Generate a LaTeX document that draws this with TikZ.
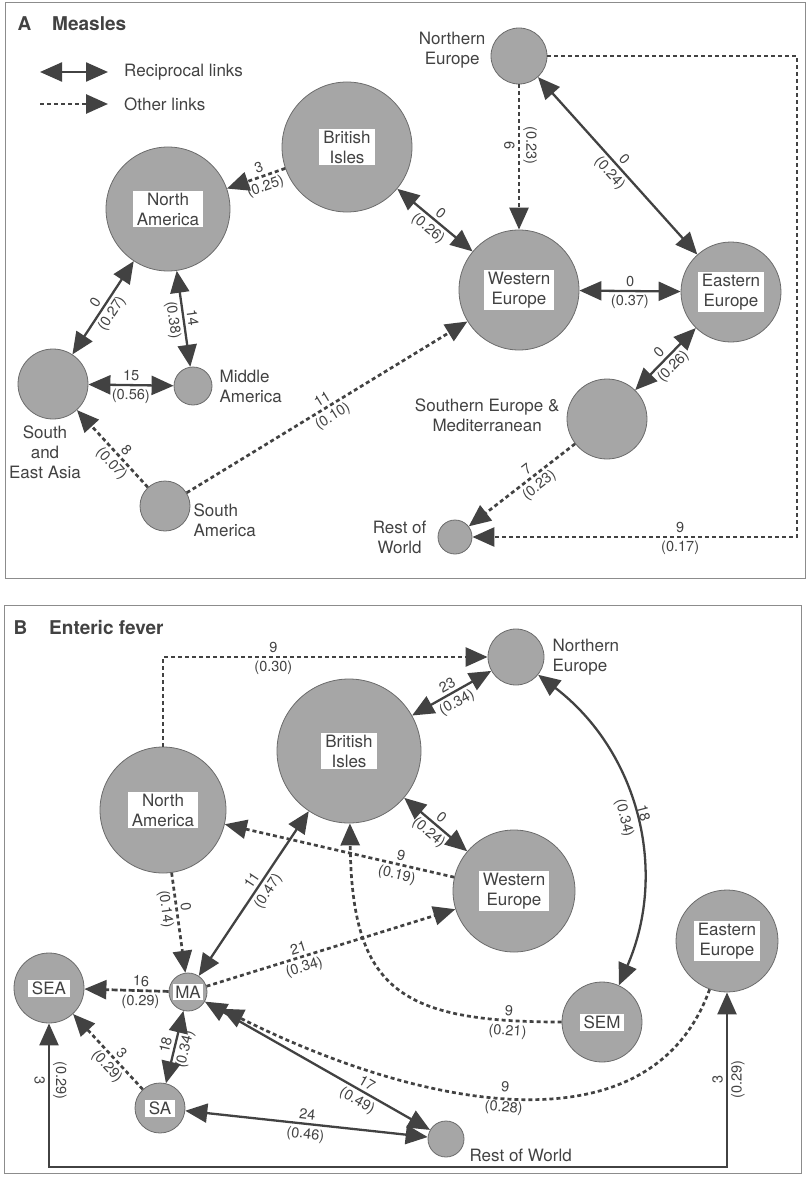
\documentclass[tikz,border=0pt]{standalone}
\usepackage{fontspec}
\setmainfont{TeX Gyre Heros}
\usetikzlibrary{arrows.meta, positioning}

\definecolor{blob}{gray}{0.65}
\definecolor{rim}{gray}{0.42}
\definecolor{ink}{gray}{0.26}
\definecolor{framegray}{gray}{0.55}

\tikzstyle{region} = [circle, draw=rim, fill=blob, line width=0.8pt, inner sep=0pt]
\tikzstyle{namebox} = [rectangle, fill=white, text=ink, align=center, inner xsep=4pt, inner ysep=2pt, font=\fontsize{17}{20}\selectfont]
\tikzstyle{regionname} = [text=ink, inner sep=0pt, font=\fontsize{17}{20}\selectfont]
\tikzstyle{weight} = [text=ink, sloped, inner sep=3pt, font=\fontsize{14.5}{16}\selectfont]
\tikzstyle{recip} = [draw=ink, line width=2.3pt, <->]
\tikzstyle{otherlink} = [draw=ink, line width=2.7pt, dash pattern=on 4pt off 3pt, ->]
\tikzstyle{panel} = [draw=framegray, line width=1pt]
\tikzstyle{paneltitle} = [text=ink, anchor=west, font=\fontsize{19}{22}\selectfont\bfseries]

\begin{document}
\begin{tikzpicture}[x=1pt, y=-1pt, >={Triangle[length=22pt, width=19pt]}]
\useasboundingbox (0,0) rectangle (807,1185);

% ---------- A: measles ----------
\draw[panel] (5,3) rectangle (805,578);
\node (titleA) [paneltitle] at (14,24) {A\hspace{21pt}Measles};

% key
\coordinate (keyR1) at (40,72);
\coordinate (keyR2) at (108,72);
\coordinate (keyO1) at (40,104);
\coordinate (keyO2) at (108,104);
\draw[recip] (keyR1) -- (keyR2);
\draw[otherlink] (keyO1) -- (keyO2);
\node (keyrecip) [regionname, right=16pt of keyR2] {Reciprocal links};
\node (keyother) [regionname, right=16pt of keyO2] {Other links};

\node (naA) [region, minimum size=124pt] at (168,209) {};
\node (biA) [region, minimum size=130pt] at (347,147) {};
\node (neA) [region, minimum size=56pt] at (519,56) {};
\node (weA) [region, minimum size=120pt] at (519,290) {};
\node (eeA) [region, minimum size=100pt] at (731,292) {};
\node (semA) [region, minimum size=80pt] at (607,419) {};
\node (rowA) [region, minimum size=34pt] at (455,537) {};
\node (seaA) [region, minimum size=70pt] at (53,384) {};
\node (maA) [region, minimum size=38pt] at (193,386) {};
\node (saA) [region, minimum size=50pt] at (165,506) {};

\node (naAname) [namebox] at (naA) {North\\America};
\node (biAname) [namebox] at (biA) {British\\Isles};
\node (weAname) [namebox] at (weA) {Western\\Europe};
\node (eeAname) [namebox] at (eeA) {Eastern\\Europe};

\node (neAname) [regionname, align=center, left=5pt of neA, yshift=6pt] {Northern\\Europe};
\node (maAname) [regionname, align=left, right=7pt of maA] {Middle\\America};
\node (seaAname) [regionname, align=center, below=6pt of seaA, xshift=-8pt] {South\\and\\East Asia};
\node (saAname) [regionname, align=left, right=3pt of saA, yshift=-14pt] {South\\America};
\node (semAname) [regionname, align=center, left=7pt of semA, yshift=4pt] {Southern Europe \&\\Mediterranean};
\node (rowAname) [regionname, align=center, left=11pt of rowA] {Rest of\\World};

\draw[otherlink] (biA) -- node[weight, above, pos=0.4] {3} node[weight, below, pos=0.4] {(0.25)} (naA);
\draw[recip] (naA) -- node[weight, above] {0} node[weight, below] {(0.27)} (seaA);
\draw[recip] (naA) -- node[weight, above] {14} node[weight, below] {(0.38)} (maA);
\draw[recip] (seaA) -- node[weight, above] {15} node[weight, below] {(0.56)} (maA);
\draw[otherlink] (saA) -- node[weight, above, pos=0.4] {8} node[weight, below, pos=0.4] {(0.07)} (seaA);
\draw[otherlink] (saA) -- node[weight, above] {11} node[weight, below] {(0.10)} (weA);
\draw[recip] (biA) -- node[weight, above] {0} node[weight, below] {(0.26)} (weA);
\draw[otherlink] (neA) -- node[weight, below, pos=0.42] {6} node[weight, above, pos=0.42] {(0.23)} (weA);
\draw[recip] (neA) -- node[weight, above] {0} node[weight, below] {(0.24)} (eeA);
\draw[recip] (weA) -- node[weight, above] {0} node[weight, below] {(0.37)} (eeA);
\draw[recip] (eeA) -- node[weight, above] {0} node[weight, below] {(0.26)} (semA);
\draw[otherlink] (semA) -- node[weight, above, pos=0.4] {7} node[weight, below, pos=0.4] {(0.23)} (rowA);
\coordinate (turnA) at (797,56);
\draw[otherlink] (neA) -- (turnA) |- node[weight, above, pos=0.68] {9} node[weight, below, pos=0.68] {(0.17)} (rowA);

% ---------- B: enteric fever ----------
\draw[panel] (4,605) rectangle (801,1173);
\node (titleB) [paneltitle] at (10,628) {B\hspace{22pt}Enteric fever};

\node (neB) [region, minimum size=56pt] at (516,657) {};
\node (biB) [region, minimum size=144pt] at (349,751) {};
\node (naB) [region, minimum size=126pt] at (163,810) {};
\node (weB) [region, minimum size=122pt] at (514,891) {};
\node (eeB) [region, minimum size=102pt] at (727,941) {};
\node (semB) [region, minimum size=80pt] at (602,1022) {};
\node (rowB) [region, minimum size=36pt] at (446,1139) {};
\node (seaB) [region, minimum size=70pt] at (49,988) {};
\node (maB) [region, minimum size=38pt] at (188,992) {};
\node (saB) [region, minimum size=50pt] at (160,1108) {};

\node (biBname) [namebox] at (biB) {British\\Isles};
\node (naBname) [namebox] at (naB) {North\\America};
\node (weBname) [namebox] at (weB) {Western\\Europe};
\node (eeBname) [namebox] at (eeB) {Eastern\\Europe};
\node (semBname) [namebox] at (semB) {SEM};
\node (seaBname) [namebox] at (seaB) {SEA};
\node (maBname) [namebox, inner xsep=2pt] at (maB) {MA};
\node (saBname) [namebox] at (saB) {SA};

\node (neBname) [regionname, align=left, right=8pt of neB] {Northern\\Europe};
\node (rowBname) [regionname, right=5pt of rowB, yshift=-16pt] {Rest of World};

\draw[otherlink] (naB) |- node[weight, above, pos=0.67] {9} node[weight, below, pos=0.67] {(0.30)} (neB);
\draw[recip] (biB) -- node[weight, above] {23} node[weight, below] {(0.34)} (neB);
\draw[recip] (neB) to[bend left=38] node[weight, above] {18} node[weight, below] {(0.34)} (semB);
\draw[recip] (biB) -- node[weight, above] {0} node[weight, below] {(0.24)} (weB);
\draw[otherlink] (weB) -- node[weight, above, pos=0.24] {9} node[weight, below, pos=0.24] {(0.19)} (naB);
\draw[otherlink] (naB) -- node[weight, above, pos=0.35] {0} node[weight, below, pos=0.35] {(0.14)} (maB);
\draw[recip] (maB) -- node[weight, above, pos=0.55] {11} node[weight, below, pos=0.55] {(0.47)} (biB);
\draw[otherlink] (maB) -- node[weight, above, pos=0.38] {21} node[weight, below, pos=0.38] {(0.34)} (weB);
\draw[otherlink] (semB) .. controls (400,1022) and (352,990) .. node[weight, above, pos=0.12] {9} node[weight, below, pos=0.12] {(0.21)} (biB);
\draw[otherlink, shorten >=18pt] (eeB) .. controls (650,1155) and (420,1108) .. node[weight, above, pos=0.52] {9} node[weight, below, pos=0.52] {(0.28)} (maB);
\draw[recip] (maB) -- node[weight, above, pos=0.7] {17} node[weight, below, pos=0.7] {(0.49)} (rowB);
\draw[recip] (saB) -- node[weight, above] {24} node[weight, below] {(0.46)} (rowB);
\draw[recip] (maB) -- node[weight, above] {18} node[weight, below] {(0.34)} (saB);
\draw[otherlink, dash pattern=on 6pt off 2.5pt] (maB) -- node[weight, above, pos=0.33] {16} node[weight, below, pos=0.33] {(0.29)} (seaB);
\draw[otherlink] (saB) -- node[weight, above, pos=0.4] {3} node[weight, below, pos=0.4] {(0.29)} (seaB);
\coordinate (floorB) at (400,1167);
\draw[recip] (seaB) |- node[weight, below, pos=0.2] {3} node[weight, above, pos=0.2] {(0.29)} (floorB) -| node[weight, above, pos=0.75] {3} node[weight, below, pos=0.75] {(0.29)} (eeB);

\end{tikzpicture}
\end{document}
